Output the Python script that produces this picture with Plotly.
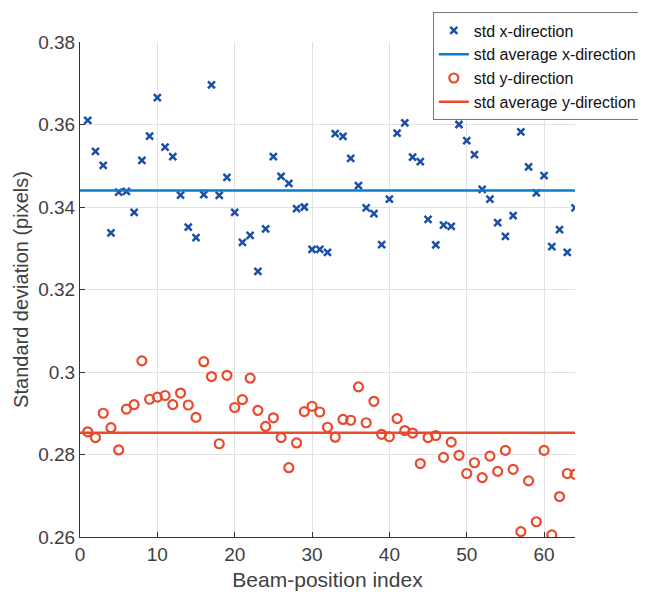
import plotly.graph_objects as go

beam_index = list(range(1, 65))

std_x = [0.3610, 0.3535, 0.3501, 0.3337, 0.3436, 0.3438, 0.3387, 0.3513, 0.3572, 0.3665,
         0.3545, 0.3522, 0.3429, 0.3351, 0.3326, 0.3430, 0.3696, 0.3428, 0.3472, 0.3387,
         0.3314, 0.3331, 0.3244, 0.3347, 0.3522, 0.3474, 0.3457, 0.3396, 0.3400, 0.3297,
         0.3297, 0.3290, 0.3578, 0.3571, 0.3518, 0.3452, 0.3398, 0.3384, 0.3309, 0.3419,
         0.3579, 0.3604, 0.3521, 0.3510, 0.3370, 0.3308, 0.3356, 0.3353, 0.3600, 0.3561,
         0.3527, 0.3443, 0.3419, 0.3362, 0.3329, 0.3379, 0.3582, 0.3497, 0.3434, 0.3476,
         0.3304, 0.3345, 0.3290, 0.3398]

std_y = [0.2855, 0.2841, 0.2900, 0.2865, 0.2811, 0.2910, 0.2921, 0.3027, 0.2934, 0.2939,
         0.2943, 0.2921, 0.2949, 0.2920, 0.2890, 0.3025, 0.2989, 0.2826, 0.2992, 0.2914,
         0.2933, 0.2985, 0.2907, 0.2868, 0.2889, 0.2841, 0.2768, 0.2828, 0.2904, 0.2917,
         0.2903, 0.2866, 0.2842, 0.2885, 0.2883, 0.2964, 0.2877, 0.2929, 0.2849, 0.2843,
         0.2887, 0.2858, 0.2852, 0.2778, 0.2841, 0.2846, 0.2793, 0.2830, 0.2798, 0.2754,
         0.2780, 0.2744, 0.2796, 0.2759, 0.2810, 0.2764, 0.2613, 0.2736, 0.2637, 0.2810,
         0.2605, 0.2698, 0.2754, 0.2752]

avg_x = 0.3440
avg_y = 0.2853
line_x_range = [0, 64]

x_ticks = [0, 10, 20, 30, 40, 50, 60]
y_ticks = [0.26, 0.28, 0.30, 0.32, 0.34, 0.36, 0.38]
y_tick_labels = ["0.26", "0.28", "0.3", "0.32", "0.34", "0.36", "0.38"]

FONT = "Liberation Sans, Arial, sans-serif"

fig = go.Figure()
fig.add_trace(go.Scatter(
    x=beam_index, y=std_x, mode="markers", name="std x-direction",
    marker=dict(symbol="x-thin", size=7, color="#1a4fa8", line=dict(width=2.5, color="#1a4fa8")),
))
fig.add_trace(go.Scatter(
    x=line_x_range, y=[avg_x, avg_x], mode="lines", name="std average x-direction",
    line=dict(color="#0a7ccc", width=2.5),
))
fig.add_trace(go.Scatter(
    x=beam_index, y=std_y, mode="markers", name="std y-direction",
    marker=dict(symbol="circle-open", size=9, color="#ea4a2c", line=dict(width=2.2, color="#ea4a2c")),
))
fig.add_trace(go.Scatter(
    x=line_x_range, y=[avg_y, avg_y], mode="lines", name="std average y-direction",
    line=dict(color="#ea4a2c", width=2.5),
))

fig.update_layout(
    width=646, height=596,
    margin=dict(l=72, r=79, t=34, b=67, autoexpand=False),
    paper_bgcolor="white", plot_bgcolor="white",
    font=dict(family=FONT, size=19, color="#404040"),
    showlegend=True,
    legend=dict(
        x=1.135, y=1.0596, xanchor="right", yanchor="top",
        bgcolor="white", bordercolor="#777777", borderwidth=1,
        font=dict(size=16, color="#111111"),
        tracegroupgap=0, itemwidth=30,
    ),
    xaxis=dict(
        range=[0, 64], tickvals=x_ticks, showgrid=True, gridcolor="#e2e2e2",
        showline=True, linecolor="#333333", linewidth=1, mirror=False,
        ticks="inside", ticklen=5, tickcolor="#333333", zeroline=False,
        title=dict(text="Beam-position index", standoff=8, font=dict(size=21)),
        tickfont=dict(size=19),
    ),
    yaxis=dict(
        range=[0.26, 0.38], tickvals=y_ticks, ticktext=y_tick_labels,
        showgrid=True, gridcolor="#e2e2e2",
        showline=True, linecolor="#333333", linewidth=1, mirror=False,
        ticks="inside", ticklen=5, tickcolor="#333333", zeroline=False,
        title=dict(text="Standard deviation (pixels)", standoff=4, font=dict(size=20)),
        tickfont=dict(size=19),
    ),
)

fig.write_html("out.html")
